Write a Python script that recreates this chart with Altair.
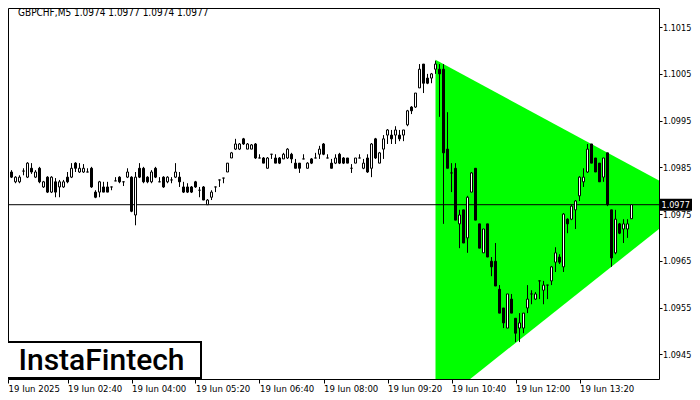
import altair as alt
import pandas as pd

# ---------------- data ----------------
symbol = "GBPCHF,M5"

open_ = [1.09808, 1.09829, 1.09840, 1.09819, 1.09819, 1.09842, 1.09829, 1.09848, 1.09829, 1.09848,
         1.09808, 1.09829, 1.09797, 1.09819, 1.09808, 1.09808, 1.09829, 1.09829, 1.09859, 1.09840,
         1.09840, 1.09840, 1.09848, 1.09797, 1.09797, 1.09808, 1.09808, 1.09808, 1.09821, 1.09829,
         1.09819, 1.09829, 1.09829, 1.09748, 1.09848, 1.09848, 1.09829, 1.09819, 1.09848, 1.09819,
         1.09829, 1.09819, 1.09823, 1.09829, 1.09829, 1.09808, 1.09808, 1.09808, 1.09819, 1.09801,
         1.09808, 1.09770, 1.09786, 1.09808, 1.09823, 1.09827, 1.09840, 1.09870, 1.09889, 1.09889,
         1.09911, 1.09889, 1.09889, 1.09900, 1.09870, 1.09870, 1.09848, 1.09878, 1.09870, 1.09870,
         1.09868, 1.09870, 1.09878, 1.09859, 1.09859, 1.09868, 1.09848, 1.09868, 1.09870, 1.09878,
         1.09900, 1.09870, 1.09859, 1.09859, 1.09878, 1.09870, 1.09870, 1.09848, 1.09859, 1.09870,
         1.09848, 1.09870, 1.09848, 1.09911, 1.09859, 1.09889, 1.09919, 1.09919, 1.09919, 1.09919,
         1.09919, 1.09941, 1.09979, 1.09979, 1.10020, 1.10071, 1.10041, 1.10041, 1.10060, 1.10060,
         1.10060, 1.09889, 1.09838, 1.09848, 1.09729, 1.09759, 1.09699, 1.09797, 1.09848, 1.09729,
         1.09667, 1.09729, 1.09649, 1.09649, 1.09589, 1.09549, 1.09506, 1.09568, 1.09527, 1.09506,
         1.09506, 1.09549, 1.09579, 1.09568, 1.09607, 1.09587, 1.09598, 1.09607, 1.09647, 1.09658,
         1.09637, 1.09739, 1.09739, 1.09759, 1.09789, 1.09819, 1.09840, 1.09900, 1.09870, 1.09859,
         1.09829, 1.09881, 1.09759, 1.09667, 1.09729, 1.09718, 1.09718, 1.09740]

high = [1.09823, 1.09831, 1.09844, 1.09831, 1.09833, 1.09848, 1.09861, 1.09859, 1.09844, 1.09851,
        1.09821, 1.09831, 1.09831, 1.09827, 1.09823, 1.09823, 1.09840, 1.09859, 1.09861, 1.09859,
        1.09857, 1.09848, 1.09851, 1.09801, 1.09821, 1.09819, 1.09819, 1.09808, 1.09829, 1.09831,
        1.09819, 1.09848, 1.09831, 1.09840, 1.09859, 1.09851, 1.09831, 1.09844, 1.09851, 1.09829,
        1.09831, 1.09831, 1.09829, 1.09859, 1.09840, 1.09819, 1.09816, 1.09810, 1.09821, 1.09808,
        1.09810, 1.09782, 1.09801, 1.09808, 1.09823, 1.09827, 1.09859, 1.09883, 1.09911, 1.09902,
        1.09913, 1.09902, 1.09900, 1.09902, 1.09878, 1.09872, 1.09872, 1.09878, 1.09878, 1.09872,
        1.09881, 1.09891, 1.09881, 1.09868, 1.09859, 1.09878, 1.09861, 1.09870, 1.09881, 1.09896,
        1.09902, 1.09878, 1.09868, 1.09878, 1.09881, 1.09872, 1.09870, 1.09857, 1.09870, 1.09878,
        1.09868, 1.09878, 1.09902, 1.09913, 1.09883, 1.09919, 1.09932, 1.09930, 1.09938, 1.09930,
        1.09930, 1.09973, 1.09981, 1.10009, 1.10071, 1.10071, 1.10050, 1.10052, 1.10078, 1.10071,
        1.10071, 1.09968, 1.09859, 1.09859, 1.09759, 1.09759, 1.09789, 1.09840, 1.09848, 1.09729,
        1.09718, 1.09729, 1.09658, 1.09688, 1.09598, 1.09549, 1.09579, 1.09579, 1.09527, 1.09538,
        1.09538, 1.09598, 1.09587, 1.09583, 1.09607, 1.09607, 1.09598, 1.09639, 1.09679, 1.09664,
        1.09752, 1.09741, 1.09770, 1.09780, 1.09831, 1.09848, 1.09900, 1.09900, 1.09870, 1.09859,
        1.09870, 1.09881, 1.09759, 1.09759, 1.09731, 1.09739, 1.09739, 1.09770]

low = [1.09804, 1.09827, 1.09827, 1.09816, 1.09816, 1.09833, 1.09827, 1.09836, 1.09827, 1.09816,
       1.09806, 1.09795, 1.09795, 1.09786, 1.09786, 1.09806, 1.09816, 1.09827, 1.09840, 1.09838,
       1.09838, 1.09840, 1.09806, 1.09784, 1.09786, 1.09797, 1.09797, 1.09801, 1.09821, 1.09816,
       1.09810, 1.09827, 1.09754, 1.09726, 1.09827, 1.09816, 1.09816, 1.09816, 1.09827, 1.09819,
       1.09806, 1.09816, 1.09816, 1.09827, 1.09808, 1.09795, 1.09795, 1.09795, 1.09806, 1.09786,
       1.09780, 1.09770, 1.09780, 1.09797, 1.09808, 1.09816, 1.09840, 1.09870, 1.09887, 1.09887,
       1.09898, 1.09889, 1.09889, 1.09868, 1.09870, 1.09859, 1.09848, 1.09868, 1.09859, 1.09857,
       1.09868, 1.09868, 1.09859, 1.09848, 1.09838, 1.09868, 1.09848, 1.09857, 1.09870, 1.09868,
       1.09876, 1.09870, 1.09848, 1.09857, 1.09857, 1.09857, 1.09859, 1.09838, 1.09859, 1.09870,
       1.09846, 1.09838, 1.09829, 1.09868, 1.09859, 1.09868, 1.09900, 1.09900, 1.09900, 1.09906,
       1.09906, 1.09938, 1.09964, 1.09977, 1.10020, 1.10009, 1.10028, 1.10030, 1.10050, 1.09958,
       1.09729, 1.09848, 1.09797, 1.09737, 1.09677, 1.09688, 1.09667, 1.09797, 1.09737, 1.09677,
       1.09667, 1.09658, 1.09617, 1.09596, 1.09538, 1.09506, 1.09506, 1.09538, 1.09476, 1.09476,
       1.09495, 1.09538, 1.09557, 1.09566, 1.09568, 1.09557, 1.09568, 1.09598, 1.09626, 1.09643,
       1.09626, 1.09709, 1.09737, 1.09718, 1.09778, 1.09808, 1.09838, 1.09859, 1.09840, 1.09819,
       1.09819, 1.09767, 1.09637, 1.09664, 1.09707, 1.09688, 1.09699, 1.09740]

close = [1.09819, 1.09829, 1.09829, 1.09829, 1.09829, 1.09842, 1.09859, 1.09840, 1.09840, 1.09819,
         1.09819, 1.09797, 1.09829, 1.09797, 1.09819, 1.09819, 1.09819, 1.09848, 1.09848, 1.09848,
         1.09848, 1.09840, 1.09808, 1.09786, 1.09819, 1.09797, 1.09797, 1.09808, 1.09821, 1.09819,
         1.09819, 1.09840, 1.09756, 1.09829, 1.09829, 1.09819, 1.09819, 1.09840, 1.09829, 1.09819,
         1.09808, 1.09829, 1.09823, 1.09840, 1.09819, 1.09797, 1.09797, 1.09797, 1.09808, 1.09801,
         1.09780, 1.09780, 1.09797, 1.09808, 1.09823, 1.09827, 1.09859, 1.09881, 1.09900, 1.09900,
         1.09900, 1.09900, 1.09898, 1.09870, 1.09870, 1.09859, 1.09870, 1.09878, 1.09859, 1.09859,
         1.09878, 1.09889, 1.09868, 1.09848, 1.09848, 1.09868, 1.09859, 1.09859, 1.09870, 1.09889,
         1.09878, 1.09870, 1.09848, 1.09870, 1.09859, 1.09859, 1.09859, 1.09848, 1.09870, 1.09870,
         1.09859, 1.09840, 1.09900, 1.09870, 1.09881, 1.09911, 1.09930, 1.09911, 1.09930, 1.09911,
         1.09930, 1.09971, 1.09971, 1.10009, 1.10060, 1.10030, 1.10030, 1.10050, 1.10071, 1.10050,
         1.09881, 1.09848, 1.09838, 1.09737, 1.09748, 1.09688, 1.09786, 1.09838, 1.09737, 1.09677,
         1.09718, 1.09658, 1.09637, 1.09596, 1.09538, 1.09517, 1.09579, 1.09538, 1.09495, 1.09517,
         1.09538, 1.09568, 1.09579, 1.09579, 1.09607, 1.09598, 1.09598, 1.09637, 1.09667, 1.09647,
         1.09750, 1.09729, 1.09767, 1.09778, 1.09829, 1.09829, 1.09889, 1.09859, 1.09840, 1.09819,
         1.09870, 1.09770, 1.09656, 1.09739, 1.09709, 1.09729, 1.09729, 1.09770]

# time-axis labels (bar index of each label)
label_bars = [0, 16, 32, 48, 64, 80, 96, 112, 128, 144]
label_text = ["19 Jun 2025", "19 Jun 02:40", "19 Jun 04:00", "19 Jun 05:20", "19 Jun 06:40",
              "19 Jun 08:00", "19 Jun 09:20", "19 Jun 10:40", "19 Jun 12:00", "19 Jun 13:20"]

price_ticks = [1.0945, 1.0955, 1.0965, 1.0975, 1.0985, 1.0995, 1.1005, 1.1015]

# symmetrical-triangle pattern (start bar / right end, upper and lower boundary)
tri_bar = [108, 164]
tri_upper = [1.10080, 1.09821]
tri_lower = [1.09338, 1.09719]

logo_text = "InstaFintech"

# ---------------- chart ----------------
FONT = "DejaVu Sans Condensed, Liberation Sans, sans-serif"
W, H = 651, 371
X_DOM = [1.125, 163.875]

candles = pd.DataFrame({"i": list(range(len(open_))), "o": open_, "h": high, "l": low, "c": close})
tri = pd.DataFrame({"i": tri_bar, "up": tri_upper, "lo": tri_lower})
last = pd.DataFrame({"price": [close[-1]]})
head = pd.DataFrame({"t": [f"{symbol}  {open_[-1]:.4f} {high[-1]:.4f} {low[-1]:.4f} {close[-1]:.4f}"]})
logo = pd.DataFrame({"t": [logo_text]})

x_scale = alt.Scale(domain=X_DOM, nice=False, zero=False)
y_scale = alt.Scale(domain=[1.09397, 1.10191], nice=False, zero=False)

# first label sits on the first bar, which lies at the very left edge of the view
tick_vals = [max(b, X_DOM[0] + 0.01) for b in label_bars]
label_expr = " : ".join(f"datum.value < {b + 2} ? '{t}'" for b, t in zip(label_bars, label_text)) + " : ''"

x_axis = alt.Axis(values=tick_vals, labelExpr=label_expr, labelAlign="left", labelBaseline="top",
                  tickSize=4, tickColor="black", labelColor="black", labelFont=FONT, labelFontSize=9.5,
                  labelPadding=0, domain=False, grid=False, title=None, labelOverlap=False,
                  labelFlush=False, labelBound=False)
y_axis = alt.Axis(orient="right", values=price_ticks, format=".4f", tickSize=3, tickColor="black",
                  labelColor="black", labelFont=FONT, labelFontSize=9, labelPadding=0.5,
                  domain=False, grid=False, title=None, labelOverlap=False, labelFlush=False)

X = lambda f: alt.X(f, type="quantitative", scale=x_scale, axis=x_axis)
Y = lambda f: alt.Y(f, type="quantitative", scale=y_scale, axis=y_axis)

triangle = alt.Chart(tri).mark_area(color="#00ff00", clip=True, opacity=1).encode(
    x=X("i"), y=Y("up"), y2="lo")

price_line = alt.Chart(last).mark_rule(color="black", strokeWidth=1, clip=True).encode(y=Y("price"))

wicks = alt.Chart(candles).mark_rule(color="black", strokeWidth=1, clip=True).encode(
    x=X("i"), y=Y("l"), y2="h")

bodies = alt.Chart(candles).transform_calculate(
    x0="datum.i - 0.25", x1="datum.i + 0.25"
).mark_rect(stroke="black", strokeWidth=1, clip=True).encode(
    x=X("x0"), x2="x1", y=Y("o"), y2="c",
    fill=alt.condition("datum.c >= datum.o", alt.value("white"), alt.value("black")))

header = alt.Chart(head).mark_text(align="left", baseline="alphabetic", font=FONT, fontSize=10,
                                   color="black").encode(
    x=alt.value(10), y=alt.value(8), text="t:N")

logo_box = alt.Chart(logo).mark_rect(fill="white", stroke="black", strokeWidth=2).encode(
    x=alt.value(-5), x2=alt.value(193), y=alt.value(334), y2=alt.value(370))
logo_txt = alt.Chart(logo).mark_text(align="center", baseline="middle", font="Roboto",
                                     fontSize=30, fontWeight=500, color="black").encode(
    x=alt.value(93.5), y=alt.value(352.5), text="t:N")

price_box = alt.Chart(last).mark_rule(color="black", strokeWidth=12, clip=False).encode(
    x=alt.value(651), x2=alt.value(684), y=Y("price"))
price_txt = alt.Chart(last).mark_text(align="left", baseline="middle", font=FONT, fontSize=9,
                                      color="white").encode(
    x=alt.value(653.5), y=Y("price"), text=alt.Text("price:Q", format=".4f"))

chart = alt.layer(triangle, price_line, wicks, bodies, header, logo_box, logo_txt,
                  price_box, price_txt).properties(
    width=W, height=H,
    autosize=alt.AutoSizeParams(type="none"),
    padding={"left": 0, "top": 0, "right": 33, "bottom": 13},
    background="white",
).configure_view(stroke="black", strokeWidth=1)

chart.save("out.html", embed_options={"renderer": "svg", "actions": False})
